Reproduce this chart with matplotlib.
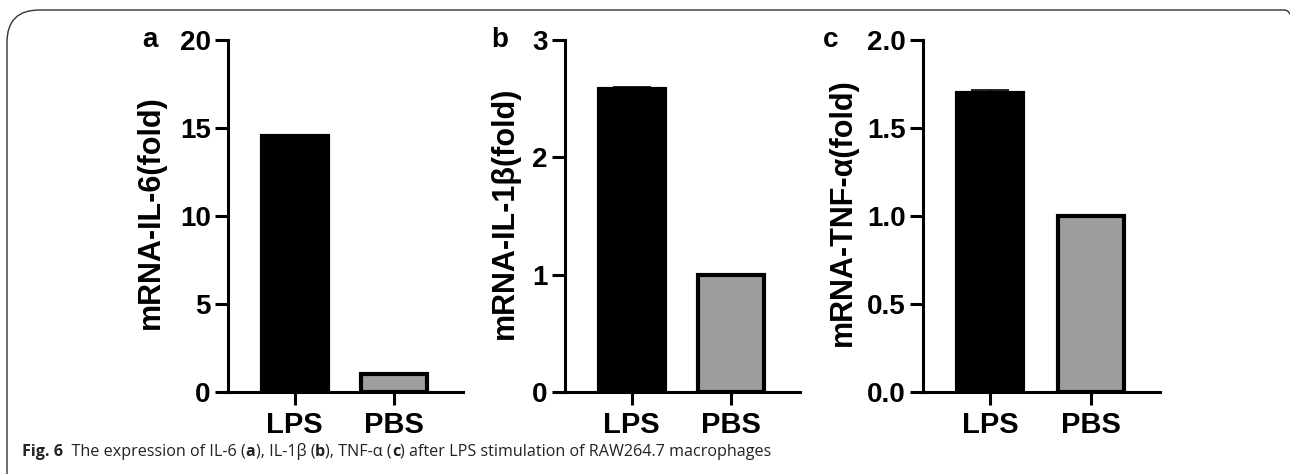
import matplotlib
matplotlib.use('Agg')
import matplotlib.pyplot as plt
from matplotlib.patches import FancyBboxPatch

# data
groups = ['LPS', 'PBS']
il6 = [14.55, 1.0]
il6_err = [0.08, 0.0]
il1b = [2.58, 1.0]
il1b_err = [0.02, 0.0]
tnf = [1.70, 1.0]
tnf_err = [0.015, 0.0]

panels = [
    ('a', il6, il6_err, 'mRNA-IL-6(fold)', [0, 5, 10, 15, 20], ['0', '5', '10', '15', '20'], 20),
    ('b', il1b, il1b_err, 'mRNA-IL-1β(fold)', [0, 1, 2, 3], ['0', '1', '2', '3'], 3),
    ('c', tnf, tnf_err, 'mRNA-TNF-α(fold)', [0, 0.5, 1.0, 1.5, 2.0], ['0.0', '0.5', '1.0', '1.5', '2.0'], 2),
]

plt.rcParams['font.family'] = ['Liberation Sans', 'DejaVu Sans']

W, H = 1290, 474
fig = plt.figure(figsize=(W / 100, H / 100), dpi=100)

# axes boxes in pixels: left, right
boxes = [(228, 463), (565, 800), (923, 1160)]
ylab_x = [166, 520, 858]
letter_x = [150, 500, 831]
top_px, bot_px = 40, 392

for (letter, vals, errs, ylab, ticks, ticklabels, ymax), (l, r), lx, px in zip(panels, boxes, ylab_x, letter_x):
    ax = fig.add_axes([l / W, 1 - bot_px / H, (r - l) / W, (bot_px - top_px) / H])
    x = range(len(groups))
    ax.bar(x, vals, width=0.66, color=['black', '#9e9e9e'], edgecolor='black', linewidth=3, zorder=2)
    ax.errorbar([0], [vals[0]], yerr=[errs[0]], fmt='none', ecolor='black', elinewidth=1.2,
                capsize=14, capthick=1.2, zorder=3)
    ax.set_xlim(-0.67, 1.69)
    ax.set_ylim(0, ymax)
    ax.set_yticks(ticks)
    ax.set_yticklabels(ticklabels)
    ax.set_xticks(list(x))
    ax.set_xticklabels(groups)
    for s in ['top', 'right']:
        ax.spines[s].set_visible(False)
    for s in ['left', 'bottom']:
        ax.spines[s].set_linewidth(2.2)
    ax.tick_params(axis='both', length=9.5, width=2.2, labelsize=20)
    ax.tick_params(axis='y', pad=3)
    ax.tick_params(axis='x', pad=4, labelsize=21)
    for t in ax.get_xticklabels() + ax.get_yticklabels():
        t.set_fontweight('bold')
    ax.set_ylabel(ylab, fontsize=22, fontweight='bold')
    ax.yaxis.set_label_coords((lx - l) / (r - l), 0.51)
    fig.text(px / W, 1 - 40 / H, letter, fontsize=20, fontweight='bold', ha='center', va='center')

# caption, bold "Fig. 6" and bold panel letters
parts = [('Fig. 6', 'bold'), ('  The expression of IL-6 (', 'normal'), ('a', 'bold'),
         ('), IL-1β (', 'normal'), ('b', 'bold'), ('), TNF-α (', 'normal'), ('c', 'bold'),
         (') after LPS stimulation of RAW264.7 macrophages', 'normal')]
renderer = fig.canvas.get_renderer()
cx = 22
for txt, wt in parts:
    t = fig.text(cx / W, 1 - 456 / H, txt, fontsize=11.6, fontweight=wt, family=['Open Sans', 'DejaVu Sans'],
                 ha='left', va='baseline', color='#222222')
    bb = t.get_window_extent(renderer)
    cx += bb.width

# rounded frame
frame = FancyBboxPatch((7 / W, -0.2), (1290 + 20) / W, 1 - 10 / H + 0.2,
                       boxstyle='round,pad=0,rounding_size=0.025', transform=fig.transFigure,
                       fill=False, edgecolor='#333333', linewidth=1.0, mutation_aspect=W / H)
fig.patches.append(frame)

fig.savefig('out.png', dpi=100)
